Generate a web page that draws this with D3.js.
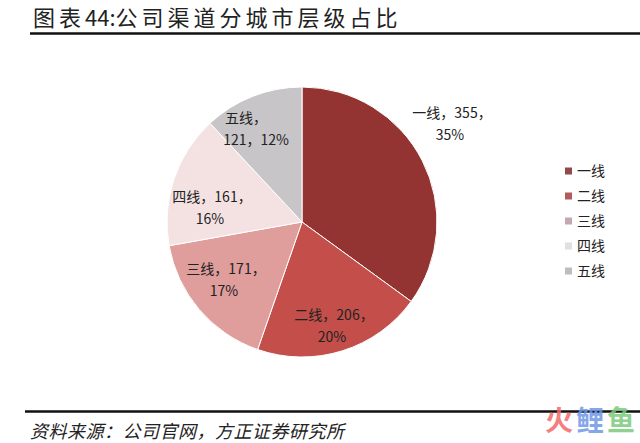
<!DOCTYPE html>
<html><head><meta charset="utf-8">
<script src="https://cdn.jsdelivr.net/npm/d3@7"></script>
<style>
html,body{margin:0;padding:0;background:#fff;}
svg{display:block;}
</style></head>
<body>
<svg id="chart" width="640" height="443"></svg>
<script>
const categories = ["一线", "二线", "三线", "四线", "五线"];
const values = [355, 206, 171, 161, 121];
const percents = ["35%", "20%", "17%", "16%", "12%"];
const colors = ["#933432", "#c34e4a", "#df9d9c", "#f4e2e3", "#c7c5c8"];
const legendColors = ["#8f4a4c", "#b45a5c", "#c3a9ae", "#e2dfe1", "#bdbcbe"];
const title = "图表44:公司渠道分城市层级占比";
const source = "资料来源：公司官网，方正证券研究所";

const svg = d3.select("#chart");
const font = "'Noto Sans CJK SC', 'Noto Sans', sans-serif";

// title
const tt = svg.append("text").attr("x", 33).attr("y", 26)
  .attr("font-family", font).attr("font-size", 22).attr("fill", "#222");
tt.append("tspan").attr("letter-spacing", 4).text("图表");
tt.append("tspan").attr("letter-spacing", 0).text("44:");
tt.append("tspan").attr("letter-spacing", 4).text(title.slice(5));
svg.append("line").attr("x1", 30).attr("x2", 640).attr("y1", 33.5).attr("y2", 33.5)
  .attr("stroke", "#111").attr("stroke-width", 2.5);

// pie
const cx = 302, cy = 222, r = 135;
const pie = d3.pie().sort(null).value(d => d)(values);
const arc = d3.arc().innerRadius(0).outerRadius(r);
const g = svg.append("g").attr("transform", `translate(${cx},${cy})`);
g.selectAll("path").data(pie).join("path")
  .attr("d", arc)
  .attr("fill", (d, i) => colors[i])
  .attr("stroke", "#fff").attr("stroke-width", 1);

// labels
const lines = [
  [categories[0] + "，" + values[0] + "，", percents[0]],
  [categories[1] + "，" + values[1] + "，", percents[1]],
  [categories[2] + "，" + values[2] + "，", percents[2]],
  [categories[3] + "，" + values[3] + "，", percents[3]],
  [categories[4] + "，", values[4] + "，" + percents[4]]
];
const offsets = [[452, 118], [334, 320], [226, 274], [212, 202], [246, 123]];
pie.forEach((d, i) => {
  const [ox, oy] = offsets[i];
  const t = svg.append("text").attr("font-family", font).attr("font-size", 14)
    .attr("fill", "#222").attr("text-anchor", "middle");
  t.append("tspan").attr("x", ox).attr("y", oy).text(lines[i][0]);
  t.append("tspan").attr("x", ox + (i === 4 ? 10 : -2)).attr("y", oy + 22).text(lines[i][1]);
});

// legend
const lg = svg.append("g");
categories.forEach((c, i) => {
  const y = 171 + i * 25;
  lg.append("rect").attr("x", 565).attr("y", y - 3.5).attr("width", 7).attr("height", 7)
    .attr("fill", legendColors[i]);
  lg.append("text").attr("x", 577).attr("y", y + 5)
    .attr("font-family", font).attr("font-size", 14).attr("fill", "#222").text(c);
});

// bottom rule and source
svg.append("line").attr("x1", 25).attr("x2", 640).attr("y1", 411.5).attr("y2", 411.5)
  .attr("stroke", "#111").attr("stroke-width", 2.5);
svg.append("text").attr("x", 30).attr("y", 438)
  .attr("font-family", font).attr("font-size", 18).attr("font-style", "italic")
  .attr("letter-spacing", 0.5).attr("fill", "#222").text(source);

// watermark
const wm = [["火", "#f26b6b"], ["鲤", "#6f98e8"], ["鱼", "#7cc97c"]];
wm.forEach((w, i) => {
  svg.append("text").attr("x", 545 + i * 31).attr("y", 431)
    .attr("font-family", font).attr("font-size", 28).attr("font-weight", "bold")
    .attr("fill", w[1]).attr("opacity", 0.85).text(w[0]);
});
</script>
</body></html>
